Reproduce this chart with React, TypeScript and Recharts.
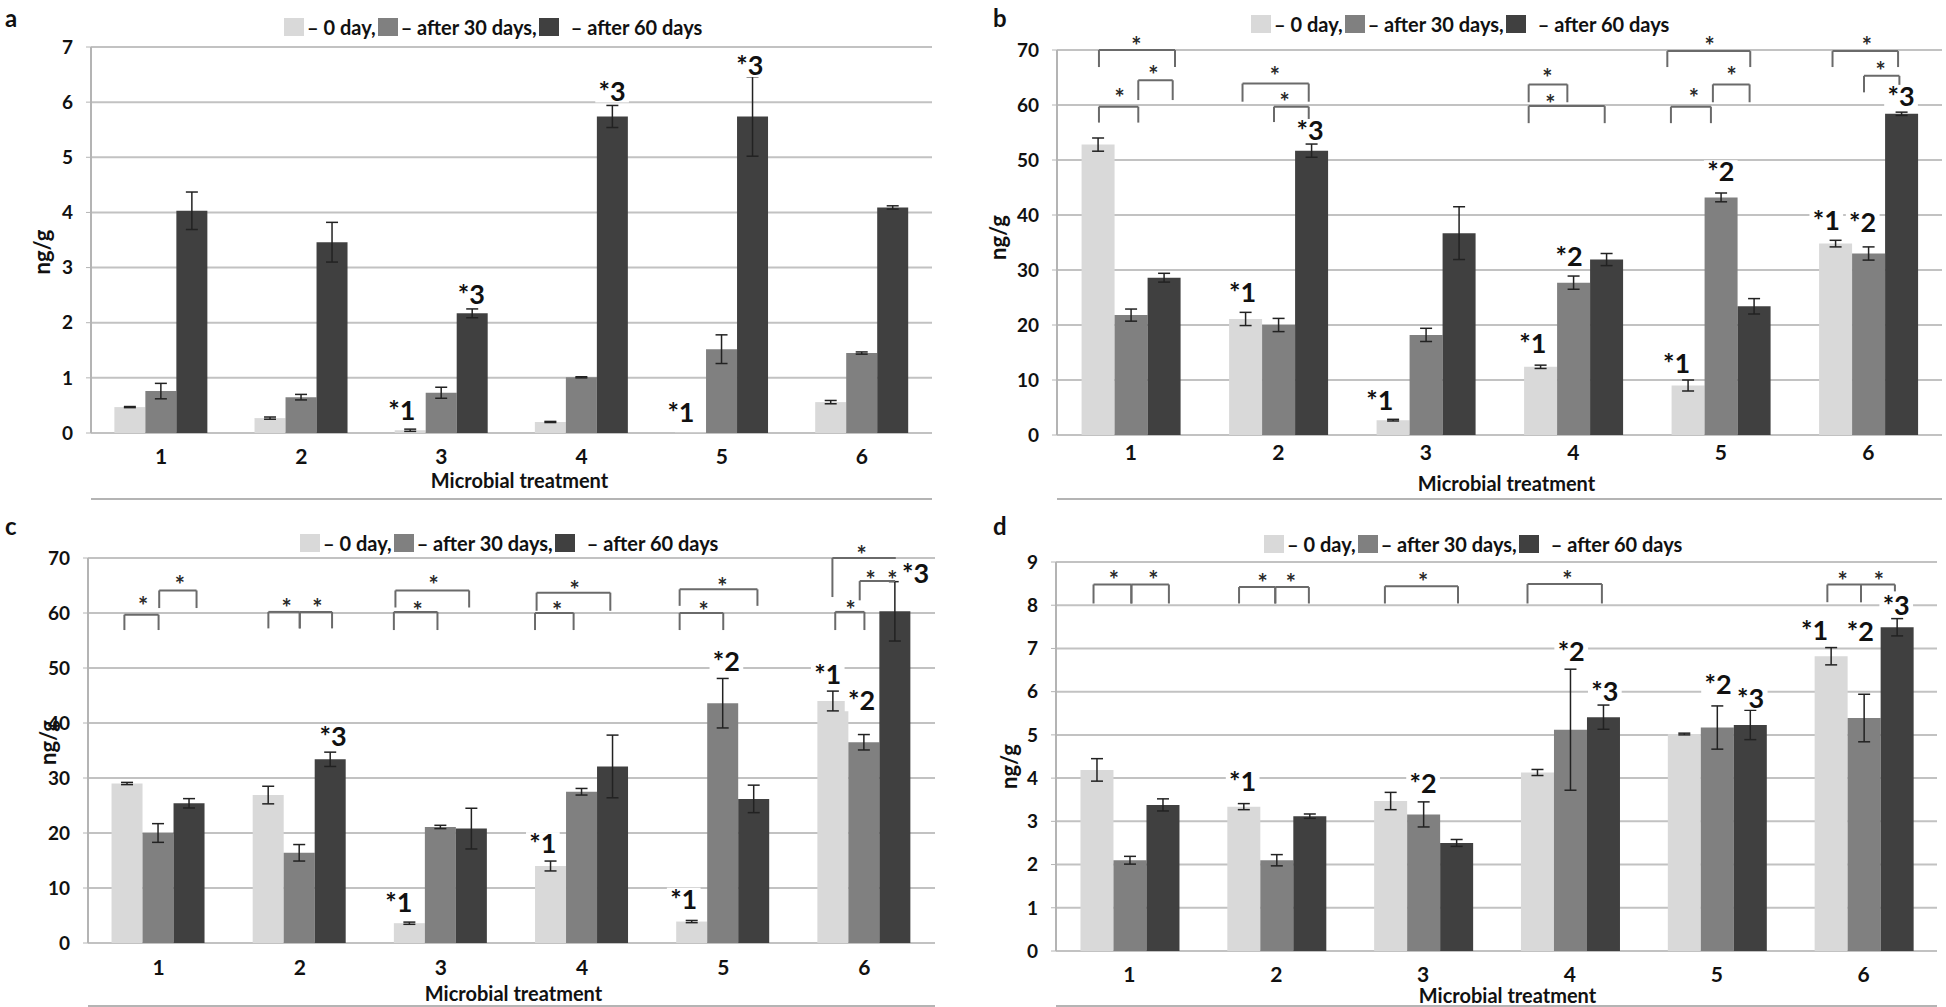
import React from 'react';
import { BarChart, Bar, XAxis, YAxis, CartesianGrid, ErrorBar, Legend, ReferenceLine, ReferenceDot } from 'recharts';

const groups = ['1', '2', '3', '4', '5', '6'];
const seriesNames = ['0 day', 'after 30 days', 'after 60 days'];
const colors = ['#d9d9d9', '#808080', '#404040'];

// panel a
const aDay0 = [0.47, 0.27, 0.05, 0.2, 0.01, 0.56];
const aDay30 = [0.76, 0.65, 0.73, 1.01, 1.52, 1.45];
const aDay60 = [4.03, 3.46, 2.17, 5.74, 5.74, 4.09];
const aErr0 = [0.01, 0.02, 0.02, 0.01, 0, 0.03];
const aErr30 = [0.14, 0.05, 0.1, 0.01, 0.26, 0.02];
const aErr60 = [0.34, 0.36, 0.08, 0.2, 0.72, 0.03];

// panel b
const bDay0 = [52.8, 21.1, 2.7, 12.4, 9.0, 34.8];
const bDay30 = [21.8, 20.0, 18.2, 27.7, 43.2, 33.0];
const bDay60 = [28.6, 51.7, 36.7, 31.9, 23.4, 58.4];
const bErr0 = [1.2, 1.2, 0.15, 0.3, 1.0, 0.6];
const bErr30 = [1.1, 1.2, 1.2, 1.2, 0.8, 1.2];
const bErr60 = [0.8, 1.2, 4.8, 1.1, 1.4, 0.3];

// panel c
const cDay0 = [29.0, 26.9, 3.6, 14.0, 3.9, 44.0];
const cDay30 = [20.0, 16.4, 21.1, 27.5, 43.6, 36.5];
const cDay60 = [25.4, 33.4, 20.8, 32.1, 26.2, 60.3];
const cErr0 = [0.2, 1.6, 0.2, 0.9, 0.2, 1.8];
const cErr30 = [1.7, 1.5, 0.3, 0.6, 4.5, 1.4];
const cErr60 = [0.85, 1.3, 3.7, 5.7, 2.5, 5.4];

// panel d
const dDay0 = [4.19, 3.34, 3.47, 4.13, 5.02, 6.82];
const dDay30 = [2.1, 2.1, 3.16, 5.12, 5.17, 5.39];
const dDay60 = [3.38, 3.12, 2.5, 5.41, 5.23, 7.49];
const dErr0 = [0.26, 0.07, 0.2, 0.07, 0.02, 0.2];
const dErr30 = [0.09, 0.13, 0.29, 1.4, 0.5, 0.55];
const dErr60 = [0.14, 0.05, 0.08, 0.28, 0.34, 0.2];

// significance labels: [group, offset in bar widths from group centre, y value, text]
type Mark = [number, number, number, string];
const aMarks: Mark[] = [
  [3, -1.27, 0.42, '*1'], [3, 0.96, 2.52, '*3'], [4, 0.98, 6.2, '*3'], [5, -1.31, 0.38, '*1'], [5, 0.9, 6.66, '*3'],
];
const bMarks: Mark[] = [
  [2, -1.09, 25.9, '*1'], [2, 0.97, 55.4, '*3'], [3, -1.4, 6.25, '*1'], [4, -1.23, 16.6, '*1'], [4, -0.13, 32.5, '*2'],
  [5, -1.35, 13.1, '*1'], [5, 0, 47.9, '*2'], [6, -1.28, 39.1, '*1'], [6, -0.17, 38.6, '*2'], [6, 1.0, 61.6, '*3'],
];
const cMarks: Mark[] = [
  [2, 1.06, 37.5, '*3'], [3, -1.34, 7.4, '*1'], [4, -1.25, 18.1, '*1'], [5, -1.26, 8.0, '*1'], [5, 0.1, 51.3, '*2'],
  [6, -1.17, 48.9, '*1'], [6, -0.09, 44.2, '*2'], [6, 1.63, 67.2, '*3'], [6, 0.89, 66.8, '*'],
];
const dMarks: Mark[] = [
  [2, -1.03, 3.92, '*1'], [3, 0, 3.88, '*2'], [4, 0.04, 6.93, '*2'], [4, 1.07, 6.0, '*3'], [5, 0.04, 6.16, '*2'],
  [5, 1.04, 5.85, '*3'], [6, -1.5, 7.43, '*1'], [6, -0.1, 7.4, '*2'], [6, 1.0, 7.99, '*3'],
];

// brackets: l/r in bar widths, y = top, fl/fr = feet, sx/sy = star
type Bracket = { g: number; l: number; r: number; y: number; fl: number; fr: number; sx: number; sy: number };
const bBrackets: Bracket[] = [
  { g: 1, l: -0.97, r: 0.23, y: 59.7, fl: 56.8, fr: 56.8, sx: -0.34, sy: 62 },
  { g: 1, l: 0.23, r: 1.28, y: 64.5, fl: 60.9, fr: 60.9, sx: 0.69, sy: 66.3 },
  { g: 1, l: -0.97, r: 1.35, y: 70, fl: 66.9, fr: 66.9, sx: 0.17, sy: 71.5 },
  { g: 2, l: -1.09, r: 0.93, y: 63.9, fl: 60.6, fr: 60.6, sx: -0.1, sy: 66 },
  { g: 2, l: -0.13, r: 0.93, y: 59.7, fl: 56.9, fr: 56.9, sx: 0.19, sy: 61.4 },
  { g: 4, l: -1.36, r: -0.18, y: 63.75, fl: 60.5, fr: 60.5, sx: -0.79, sy: 65.7 },
  { g: 4, l: -1.36, r: 0.96, y: 59.8, fl: 56.7, fr: 56.7, sx: -0.7, sy: 61 },
  { g: 5, l: -1.52, r: -0.3, y: 59.7, fl: 56.7, fr: 56.7, sx: -0.82, sy: 62 },
  { g: 5, l: -0.24, r: 0.88, y: 63.75, fl: 60.5, fr: 60.5, sx: 0.33, sy: 66 },
  { g: 5, l: -1.63, r: 0.9, y: 69.8, fl: 66.9, fr: 66.9, sx: -0.34, sy: 71.5 },
  { g: 6, l: -1.09, r: 0.91, y: 69.8, fl: 66.9, fr: 66.9, sx: -0.04, sy: 71.5 },
  { g: 6, l: -0.13, r: 0.95, y: 65.3, fl: 62.3, fr: 62.3, sx: 0.38, sy: 67 },
];
const cBrackets: Bracket[] = [
  { g: 1, l: -1.09, r: 0, y: 59.7, fl: 56.9, fr: 56.9, sx: -0.49, sy: 62 },
  { g: 1, l: 0.02, r: 1.21, y: 64.1, fl: 60.9, fr: 60.9, sx: 0.68, sy: 65.9 },
  { g: 2, l: -1.0, r: 0, y: 60.2, fl: 57.2, fr: 57.2, sx: -0.42, sy: 61.7 },
  { g: 2, l: 0, r: 1.03, y: 60.2, fl: 57.2, fr: 57.2, sx: 0.56, sy: 61.7 },
  { g: 3, l: -1.5, r: -0.11, y: 60.2, fl: 56.9, fr: 56.9, sx: -0.74, sy: 61.1 },
  { g: 3, l: -1.45, r: 0.9, y: 64.1, fl: 61, fr: 61, sx: -0.23, sy: 65.8 },
  { g: 4, l: -1.5, r: -0.27, y: 60, fl: 56.9, fr: 56.9, sx: -0.8, sy: 61.1 },
  { g: 4, l: -1.45, r: 0.9, y: 63.7, fl: 60.4, fr: 60.4, sx: -0.24, sy: 64.9 },
  { g: 5, l: -1.39, r: 0, y: 60, fl: 56.9, fr: 56.9, sx: -0.63, sy: 61.1 },
  { g: 5, l: -1.39, r: 1.09, y: 64.3, fl: 61.3, fr: 61.3, sx: -0.03, sy: 65.5 },
  { g: 6, l: -0.93, r: 0, y: 60.2, fl: 56.9, fr: 56.9, sx: -0.44, sy: 61.4 },
  { g: 6, l: -0.15, r: 0.98, y: 65.8, fl: 62.3, fr: 65.8, sx: 0.2, sy: 66.8 },
  { g: 6, l: -1.02, r: 1.0, y: 70, fl: 62.9, fr: 70, sx: -0.09, sy: 71.4 },
];
const dBrackets: Bracket[] = [
  { g: 1, l: -1.1, r: 0.06, y: 8.48, fl: 8.04, fr: 8.04, sx: -0.48, sy: 8.67 },
  { g: 1, l: 0.06, r: 1.21, y: 8.48, fl: 8.04, fr: 8.04, sx: 0.73, sy: 8.67 },
  { g: 2, l: -1.14, r: -0.03, y: 8.42, fl: 8.04, fr: 8.04, sx: -0.42, sy: 8.6 },
  { g: 2, l: -0.03, r: 1.0, y: 8.42, fl: 8.04, fr: 8.04, sx: 0.45, sy: 8.6 },
  { g: 3, l: -1.17, r: 1.07, y: 8.44, fl: 8.04, fr: 8.04, sx: 0, sy: 8.63 },
  { g: 4, l: -1.3, r: 0.98, y: 8.49, fl: 8.04, fr: 8.04, sx: -0.08, sy: 8.67 },
  { g: 6, l: -1.11, r: -0.08, y: 8.48, fl: 8.07, fr: 8.07, sx: -0.64, sy: 8.65 },
  { g: 6, l: -0.08, r: 0.96, y: 8.48, fl: 8.07, fr: 8.32, sx: 0.47, sy: 8.65 },
];

const makeRows = (v0: number[], v1: number[], v2: number[], e0: number[], e1: number[], e2: number[]) =>
  groups.map((g, i) => ({ g, x: i + 1, v0: v0[i], v1: v1[i], v2: v2[i], e0: e0[i], e1: e1[i], e2: e2[i] }));

const FONT = 'Lato, "Open Sans", sans-serif';
const BW = 2 / 9; // bar width in category units
const gx = (g: number, off: number) => g + off * BW;
const range = (max: number, step: number) => Array.from({ length: Math.round(max / step) + 1 }, (_, i) => i * step);

const MarkText = ({ cx, cy, text }: any) => {
  if (text === '*') {
    return (
      <text x={cx} y={cy} dy="0.55em" textAnchor="middle" fontSize={24} fontWeight={700} fill="#2a2a2a" fontFamily={FONT}>*</text>
    );
  }
  const fs = 27;
  const w = text.length * fs * 0.55 + 4;
  return (
    <g>
      <rect x={cx - w / 2} y={cy - fs * 0.42} width={w} height={fs * 0.84} fill="#fff" />
      <text x={cx} y={cy} dy="0.36em" textAnchor="middle" fontSize={fs} fontWeight={700} fontFamily={FONT} fill="#111">
        {text}
      </text>
    </g>
  );
};

const LegendBox = () => (
  <div style={{ display: 'flex', alignItems: 'center', fontFamily: FONT, fontWeight: 700, fontSize: 20, color: '#111', whiteSpace: 'nowrap', height: 21 }}>
    {seriesNames.map((n, i) => (
      <React.Fragment key={n}>
        <span style={{ display: 'inline-block', width: 20, height: 18, background: colors[i] }} />
        <span style={{ marginLeft: i === 2 ? 12 : 3, marginRight: 2 }}>{'– ' + n + (i < 2 ? ',' : '')}</span>
      </React.Fragment>
    ))}
  </div>
);

type PanelCfg = {
  id: string; left: number; top: number; width: number; height: number;
  margin: { top: number; right: number; bottom: number; left: number };
  yWidth: number; yMax: number; yStep: number; rows: any[]; marks: Mark[]; brackets: Bracket[];
  legend: { left: number; top: number }; xTickMargin: number;
  yTitle: { dx: number; dy: number }; xTitle: { dx: number; y: number };
};

const panels: PanelCfg[] = [
  {
    id: 'a', left: 0, top: 0, width: 960, height: 500, margin: { top: 47, right: 28, bottom: 0, left: 20 },
    yWidth: 71, yMax: 7, yStep: 1, rows: makeRows(aDay0, aDay30, aDay60, aErr0, aErr30, aErr60),
    marks: aMarks, brackets: [], legend: { left: 284, top: 16 }, xTickMargin: 16,
    yTitle: { dx: 21, dy: 12 }, xTitle: { dx: 8, y: 480 },
  },
  {
    id: 'b', left: 960, top: 0, width: 986, height: 500, margin: { top: 50, right: 4, bottom: 0, left: 20 },
    yWidth: 77, yMax: 70, yStep: 10, rows: makeRows(bDay0, bDay30, bDay60, bErr0, bErr30, bErr60),
    marks: bMarks, brackets: bBrackets, legend: { left: 291, top: 13 }, xTickMargin: 10,
    yTitle: { dx: 17, dy: -5 }, xTitle: { dx: 7, y: 483 },
  },
  {
    id: 'c', left: 0, top: 500, width: 960, height: 507, margin: { top: 58, right: 25, bottom: 0, left: 20 },
    yWidth: 68, yMax: 70, yStep: 10, rows: makeRows(cDay0, cDay30, cDay60, cErr0, cErr30, cErr60),
    marks: cMarks, brackets: cBrackets, legend: { left: 300, top: 32 }, xTickMargin: 17,
    yTitle: { dx: 27, dy: -8 }, xTitle: { dx: 2, y: 493 },
  },
  {
    id: 'd', left: 960, top: 500, width: 986, height: 507, margin: { top: 62, right: 9, bottom: 0, left: 20 },
    yWidth: 76, yMax: 9, yStep: 1, rows: makeRows(dDay0, dDay30, dDay60, dErr0, dErr30, dErr60),
    marks: dMarks, brackets: dBrackets, legend: { left: 304, top: 33 }, xTickMargin: 16,
    yTitle: { dx: 28, dy: 10 }, xTitle: { dx: 11, y: 495 },
  },
];

// plot bottom (chart-local) for each panel, the x axes fill the space below it
const plotBottom: Record<string, number> = { a: 433, b: 435, c: 443, d: 451 };

const Panel = ({ p }: { p: PanelCfg }) => {
  const lineColor = '#b4b4b4';
  const catHeight = p.height - plotBottom[p.id] - 1;
  const refs: React.ReactNode[] = [];
  p.brackets.forEach((b, bi) => {
    const x1 = gx(b.g, b.l);
    const x2 = gx(b.g, b.r);
    const segs = [[x1, b.y, x2, b.y], [x1, b.y, x1, b.fl]];
    if (b.fr < b.y) segs.push([x2, b.y, x2, b.fr]);
    segs.forEach((s, si) =>
      refs.push(
        <ReferenceLine key={`br${bi}-${si}`} xAxisId="n" ifOverflow="visible" stroke="#6a6a6a" strokeWidth={2}
          segment={[{ x: s[0], y: s[1] }, { x: s[2], y: s[3] }]} />
      )
    );
    refs.push(
      <ReferenceDot key={`bs${bi}`} xAxisId="n" x={gx(b.g, b.sx)} y={b.sy} r={0} ifOverflow="visible"
        shape={(sp: any) => <MarkText cx={sp.cx} cy={sp.cy} text="*" />} />
    );
  });
  p.marks.forEach((m, mi) =>
    refs.push(
      <ReferenceDot key={`m${mi}`} xAxisId="n" x={gx(m[0], m[1])} y={m[2]} r={0} ifOverflow="visible"
        shape={(sp: any) => <MarkText cx={sp.cx} cy={sp.cy} text={m[3]} />} />
    )
  );

  return (
    <BarChart width={p.width} height={p.height} data={p.rows} margin={p.margin} barCategoryGap="16.67%" barGap={0}>
      <CartesianGrid xAxisId="c" vertical={false} stroke="#c2c2c2" strokeWidth={2} />
      <XAxis xAxisId="n" dataKey="x" type="number" domain={[0.5, 6.5]} allowDataOverflow
        ticks={[0.5, 1.5, 2.5, 3.5, 4.5, 5.5, 6.5]} tick={false} tickSize={7} height={1}
        tickLine={{ stroke: lineColor, strokeWidth: 1.5 }} axisLine={{ stroke: lineColor, strokeWidth: 2 }} />
      <XAxis xAxisId="c" dataKey="g" type="category" height={catHeight} axisLine={false} tickLine={false} tickSize={0}
        tickMargin={p.xTickMargin} tick={{ fill: '#111', fontSize: 21, fontWeight: 700, fontFamily: FONT }}
        label={(lp: any) => {
          const vb = lp.viewBox || {};
          return (
            <text x={vb.x + vb.width / 2 + p.xTitle.dx} y={p.xTitle.y} textAnchor="middle" dominantBaseline="central"
              fontSize={20} fontWeight={700} fontFamily={FONT} fill="#111">Microbial treatment</text>
          );
        }} />
      <YAxis domain={[0, p.yMax]} allowDataOverflow ticks={range(p.yMax, p.yStep)} width={p.yWidth} tickSize={5} tickMargin={13}
        axisLine={{ stroke: lineColor, strokeWidth: 2 }} tickLine={{ stroke: lineColor }}
        tick={{ fill: '#111', fontSize: 19, fontWeight: 700, fontFamily: FONT }}
        label={(lp: any) => {
          const vb = lp.viewBox || {};
          const cx = vb.x + p.yTitle.dx;
          const cy = vb.y + vb.height / 2 + p.yTitle.dy;
          return (
            <text transform={`translate(${cx},${cy}) rotate(-90)`} textAnchor="middle" dominantBaseline="central"
              fontSize={22} fontWeight={700} fontFamily={FONT} fill="#111">ng/g</text>
          );
        }} />
      <Legend verticalAlign="middle" content={() => <LegendBox />}
        wrapperStyle={{ left: p.legend.left, top: p.legend.top, width: 'auto' }} />
      {[0, 1, 2].map((i) => (
        <Bar key={i} xAxisId="c" dataKey={`v${i}`} name={seriesNames[i]} fill={colors[i]} isAnimationActive={false}>
          <ErrorBar dataKey={`e${i}`} width={6} strokeWidth={1.5} stroke="#222" />
        </Bar>
      ))}
      {refs}
    </BarChart>
  );
};

export default function App() {
  return (
    <div style={{ position: 'absolute', left: 0, top: 0, width: 1946, height: 1007, background: '#fff', overflow: 'hidden' }}>
      {panels.map((p) => (
        <div key={p.id} style={{ position: 'absolute', left: p.left, top: p.top }}>
          <Panel p={p} />
        </div>
      ))}
      <svg width={1946} height={1007} style={{ position: 'absolute', left: 0, top: 0, pointerEvents: 'none' }}>
        {panels.map((p) => (
          <text key={p.id} x={p.left + (p.left > 0 ? 33 : 5)} y={p.top + (p.top > 0 ? 35 : 27)} fontSize={24} fontWeight={700}
            fontFamily={FONT} fill="#111">{p.id}</text>
        ))}
      </svg>
    </div>
  );
}
